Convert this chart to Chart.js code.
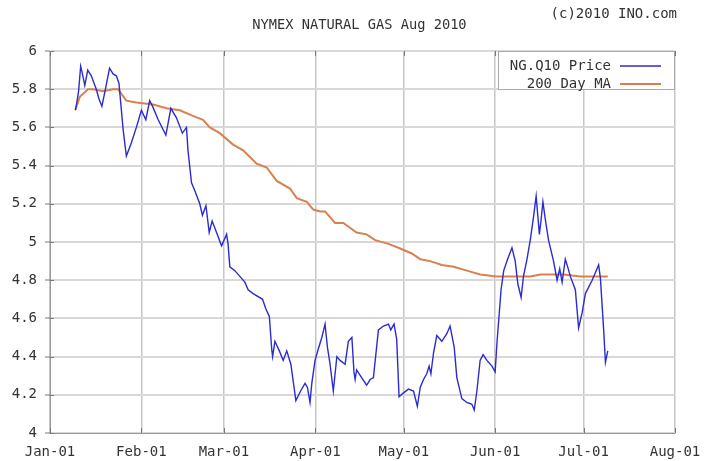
<!DOCTYPE html>
<html>
<head>
<meta charset="utf-8">
<title>NYMEX NATURAL GAS Aug 2010</title>
<script src="https://cdn.jsdelivr.net/npm/chart.js@4.4.1/dist/chart.umd.min.js"></script>
<style>
  html, body { margin: 0; padding: 0; background: #fff; }
  #wrap { position: relative; width: 715px; height: 461px; }
  #chart { position: absolute; left: 0; top: 0; }
  .label {
    position: absolute;
    font-family: 'DejaVu Sans Mono', monospace;
    font-size: 14px;
    line-height: 16px;
    color: #333;
    white-space: nowrap;
  }
  #title { left: 44px; width: 631px; top: 16px; text-align: center; font-size: 13.7px; }
  #copy { right: 38px; top: 5px; }
</style>
</head>
<body>
<div id="wrap">
  <canvas id="chart" width="715" height="461"></canvas>
  <div id="title" class="label">NYMEX NATURAL GAS Aug 2010</div>
  <div id="copy" class="label">(c)2010 INO.com</div>
</div>
<script>
// x is day of year 2010 (0 = Jan-01)
const monthDays = [0, 31, 59, 90, 120, 151, 181, 212];
const monthLabels = ['Jan-01', 'Feb-01', 'Mar-01', 'Apr-01', 'May-01', 'Jun-01', 'Jul-01', 'Aug-01'];

const yMin = 4;
const yMax = 6;
const yStep = 0.2;

const seriesLabels = ['NG.Q10 Price', '200 Day MA'];
const seriesColors = ['#2b2bd0', '#d9804f'];

const priceDays = [
  8.6, 9.1, 9.7, 10.4, 11.0, 11.8, 12.8, 14.0, 15.7, 16.6, 17.6, 18.8, 20.2, 21.4, 22.5, 23.4,
  24.8, 25.9, 27.6, 29.3, 31.0, 32.5, 33.8, 34.8, 36.7, 39.3, 41.0, 42.9, 44.9, 46.3, 46.8,
  48.0, 49.1, 50.8, 51.7, 52.9, 54.0, 55.0, 56.5, 58.2, 59.9, 60.4, 61.0, 62.7, 66.1, 67.2,
  68.9, 72.1, 73.2, 74.4, 75.2, 75.5, 76.3, 77.8, 79.1, 80.3, 81.7, 83.4, 85.0, 86.5, 87.3,
  88.2, 88.8, 89.9, 91.0, 92.2, 93.3, 94.1, 95.0, 96.1, 97.3, 98.4, 100.1, 101.2, 102.4,
  103.1, 103.5, 104.0, 105.7, 107.4, 108.6, 109.7, 111.4, 113.1, 114.8, 115.6, 116.7, 117.6,
  118.4, 119.9, 121.6, 123.3, 124.6, 125.6, 126.7, 127.8, 128.6, 129.2, 130.1, 131.2, 131.8,
  132.9, 134.6, 135.7, 137.1, 138.0, 139.7, 141.4, 143.1, 143.9, 144.8, 145.9, 146.9, 148.2,
  149.9, 151.0, 151.6, 152.2, 153.0, 153.9, 155.2, 156.7, 157.8, 158.7, 159.8, 160.6, 161.8,
  162.9, 164.0, 164.9, 165.4, 166.0, 166.6, 167.2, 168.0, 169.1, 170.8, 172.0, 172.9, 173.7,
  174.8, 175.6, 176.5, 178.2, 179.3, 180.5, 181.6, 183.9, 186.1, 186.7, 187.8, 188.4, 189.2
];
const priceValues = [
  5.69, 5.73, 5.79, 5.92, 5.88, 5.82, 5.90, 5.87, 5.80, 5.75, 5.71, 5.80, 5.91, 5.88, 5.87, 5.83,
  5.59, 5.45, 5.52, 5.60, 5.69, 5.64, 5.74, 5.71, 5.64, 5.56, 5.70, 5.65, 5.57, 5.60, 5.48,
  5.31, 5.27, 5.20, 5.14, 5.19, 5.05, 5.11, 5.05, 4.98, 5.04, 4.99, 4.87, 4.85, 4.79, 4.75,
  4.73, 4.70, 4.65, 4.61, 4.44, 4.40, 4.48, 4.43, 4.38, 4.43, 4.36, 4.17, 4.22, 4.26, 4.24,
  4.16, 4.26, 4.38, 4.44, 4.50, 4.57, 4.45, 4.36, 4.22, 4.40, 4.38, 4.36, 4.48, 4.50,
  4.32, 4.28, 4.33, 4.29, 4.25, 4.28, 4.29, 4.54, 4.56, 4.57, 4.54, 4.57, 4.49,
  4.19, 4.21, 4.23, 4.22, 4.14, 4.24, 4.28, 4.31, 4.35, 4.31, 4.42, 4.51, 4.50,
  4.48, 4.52, 4.56, 4.45, 4.29, 4.18, 4.16, 4.15, 4.12, 4.22, 4.38, 4.41, 4.38,
  4.35, 4.32, 4.47, 4.59, 4.75, 4.85, 4.91, 4.97, 4.90, 4.78, 4.71, 4.82, 4.91,
  5.01, 5.13, 5.24, 5.15, 5.04, 5.12, 5.21, 5.12, 5.01, 4.90, 4.80, 4.86, 4.79,
  4.91, 4.87, 4.82, 4.75, 4.55, 4.63, 4.73, 4.80, 4.88, 4.81, 4.54, 4.37, 4.43
];

const maDays = [
  8.6, 10.1, 12.9, 14.6, 18.0, 21.4, 23.1, 25.9, 29.3, 35.0, 39.5, 44.0, 48.5, 51.9, 54.2,
  57.6, 62.1, 65.5, 70.1, 73.5, 76.9, 81.4, 83.7, 87.1, 89.3, 91.6, 93.3, 96.7, 99.5, 104.0,
  107.4, 110.3, 114.8, 118.2, 122.7, 125.6, 129.0, 132.9, 136.9, 141.4, 145.9, 151.6, 162.9,
  166.3, 174.2, 179.9, 185.6, 189.2
];
const maValues = [
  5.69, 5.76, 5.80, 5.80, 5.79, 5.80, 5.80, 5.74, 5.73, 5.72, 5.70, 5.69, 5.66, 5.64, 5.60,
  5.57, 5.51, 5.48, 5.41, 5.39, 5.32, 5.28, 5.23, 5.21, 5.17, 5.16, 5.16, 5.10, 5.10, 5.05,
  5.04, 5.01, 4.99, 4.97, 4.94, 4.91, 4.90, 4.88, 4.87, 4.85, 4.83, 4.82, 4.82,
  4.83, 4.83, 4.82, 4.82, 4.82
];

const fontFamily = "'DejaVu Sans Mono', monospace";
const textColor = '#333';

function toPoints(xs, ys) {
  return xs.map((x, i) => ({ x: x, y: ys[i] }));
}

/**
 * Small tick marks inside the frame, like the original gif.
 */
const frameTicks = {
  id: 'frameTicks',
  afterDatasetsDraw(chart) {
    const { ctx, chartArea, scales } = chart;
    ctx.save();
    ctx.strokeStyle = '#777';
    ctx.lineWidth = 1;
    ctx.beginPath();
    scales.x.ticks.forEach((t) => {
      const px = Math.round(scales.x.getPixelForValue(t.value)) + 0.5;
      ctx.moveTo(px, chartArea.top);
      ctx.lineTo(px, chartArea.top + 5);
      ctx.moveTo(px, chartArea.bottom);
      ctx.lineTo(px, chartArea.bottom - 5);
    });
    scales.y.ticks.forEach((t) => {
      const py = Math.round(scales.y.getPixelForValue(t.value)) + 0.5;
      ctx.moveTo(chartArea.left, py);
      ctx.lineTo(chartArea.left + 4, py);
    });
    ctx.stroke();
    ctx.restore();
  },
};

/**
 * Legend box in the top right corner: label first, then a line sample.
 */
const legendBox = {
  id: 'legendBox',
  afterDraw(chart) {
    const { ctx, chartArea } = chart;
    const right = chartArea.right;
    const left = right - 177;
    const top = chartArea.top;
    const h = 38;
    ctx.save();
    ctx.fillStyle = '#fff';
    ctx.fillRect(left, top, right - left, h);
    ctx.strokeStyle = '#aaa';
    ctx.lineWidth = 1;
    ctx.strokeRect(left + 0.5, top + 0.5, right - left - 1, h);
    ctx.font = '14px ' + fontFamily;
    ctx.textAlign = 'right';
    ctx.textBaseline = 'middle';
    chart.data.datasets.forEach((ds, i) => {
      const y = top + 15 + i * 18;
      ctx.fillStyle = textColor;
      ctx.fillText(ds.label, right - 64, y);
      ctx.strokeStyle = ds.borderColor;
      ctx.lineWidth = ds.borderWidth;
      ctx.beginPath();
      ctx.moveTo(right - 55, y);
      ctx.lineTo(right - 14, y);
      ctx.stroke();
    });
    ctx.restore();
  },
};

const ctx = document.getElementById('chart').getContext('2d');
new Chart(ctx, {
  type: 'line',
  data: {
    datasets: [{
      label: seriesLabels[0],
      data: toPoints(priceDays, priceValues),
      borderColor: seriesColors[0],
      borderWidth: 1.4,
      pointRadius: 0,
      tension: 0,
      fill: false,
    }, {
      label: seriesLabels[1],
      data: toPoints(maDays, maValues),
      borderColor: seriesColors[1],
      borderWidth: 2,
      pointRadius: 0,
      tension: 0,
      fill: false,
    }],
  },
  options: {
    responsive: false,
    animation: false,
    devicePixelRatio: 1,
    layout: { padding: { top: 51, right: 40, left: 0, bottom: 0 } },
    plugins: {
      legend: { display: false },
      tooltip: { enabled: false },
    },
    scales: {
      x: {
        type: 'linear',
        min: monthDays[0],
        max: monthDays[monthDays.length - 1],
        afterBuildTicks: (scale) => {
          scale.ticks = monthDays.map((v) => ({ value: v }));
        },
        afterFit: (scale) => { scale.height = 28; },
        ticks: {
          autoSkip: false,
          maxRotation: 0,
          padding: 11,
          color: textColor,
          font: { family: fontFamily, size: 14 },
          callback: (v) => monthLabels[monthDays.indexOf(v)],
        },
        grid: { color: '#c6c6c6', lineWidth: 1.5, drawTicks: false },
        border: { color: '#999', width: 1 },
      },
      y: {
        min: yMin,
        max: yMax,
        afterFit: (scale) => { scale.width = 50; },
        ticks: {
          stepSize: yStep,
          padding: 8,
          color: textColor,
          font: { family: fontFamily, size: 14 },
          callback: (v) => String(Math.round(v * 10) / 10),
        },
        grid: { color: '#d8d8d8', lineWidth: 2, tickLength: 5, tickColor: '#777', tickWidth: 1 },
        border: { color: '#999', width: 1 },
      },
    },
  },
  plugins: [frameTicks, legendBox],
});
</script>
</body>
</html>
